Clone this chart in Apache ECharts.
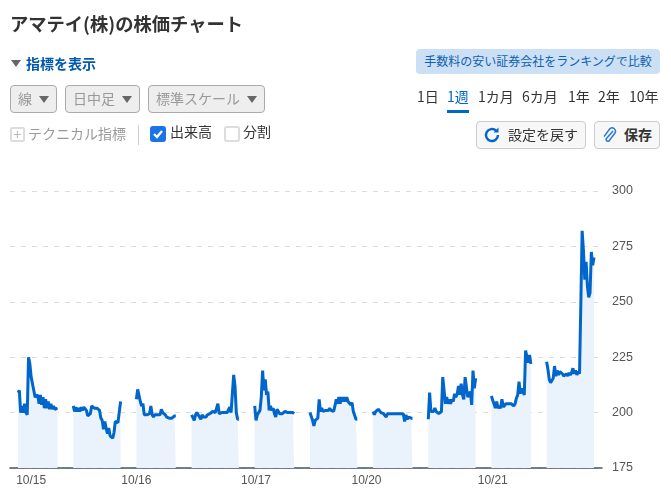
<!DOCTYPE html>
<html lang="ja"><head><meta charset="utf-8">
<script src="https://cdn.jsdelivr.net/npm/echarts@6/dist/echarts.min.js"></script>
<style>
html,body{margin:0;padding:0;background:#fff;width:671px;height:493px;overflow:hidden;font-family:"Noto Sans CJK JP","Noto Sans",sans-serif;color:#333}
#chart{position:absolute;left:0;top:0;width:671px;height:493px}
.u{position:absolute;white-space:nowrap;line-height:1;box-sizing:border-box}
.sel{top:85px;height:28px;background:#eee;border:1px solid #aaa;border-radius:4px;color:#999;font-size:14px;line-height:25px;padding-left:7px}
.sel:after{content:"";position:absolute;right:7px;top:10px;border-left:5.5px solid transparent;border-right:5.5px solid transparent;border-top:7px solid #666}
.p{top:89px;font-size:14px;color:#333}
.btn{top:121px;height:28px;background:#f7f7f7;border:1px solid #ccc;border-radius:4px;font-size:14px;line-height:25px}
</style></head><body>
<div id="chart"></div>
<div class="u" style="left:10px;top:14px;font-size:18.3px;font-weight:700">アマテイ(株)の株価チャート</div>
<div class="u" style="left:11px;top:60px;border-left:5px solid transparent;border-right:5px solid transparent;border-top:7px solid #666"></div>
<div class="u" style="left:26px;top:56px;font-size:14px;font-weight:700;color:#0058b0">指標を表示</div>
<div class="u sel" style="left:10px;width:47px">線</div>
<div class="u sel" style="left:65px;width:75px">日中足</div>
<div class="u sel" style="left:148px;width:117px">標準スケール</div>
<div class="u" style="left:10px;top:127px;width:15px;height:15px;border:2px solid #ddd;color:#bbb;font-size:14px;line-height:10px;text-align:center;border-radius:2px">+</div>
<div class="u" style="left:28px;top:126px;font-size:14px;color:#999">テクニカル指標</div>
<div class="u" style="left:138px;top:125px;width:1px;height:20px;background:#ccc"></div>
<svg class="u" style="left:150px;top:126px" width="16" height="16" viewBox="0 0 16 16"><rect width="16" height="16" rx="3" fill="#1a73e8"/><path d="M4 8l3 3 5-6" fill="none" stroke="#fff" stroke-width="2.4"/></svg>
<div class="u" style="left:170px;top:124px;font-size:14px">出来高</div>
<div class="u" style="left:224px;top:126px;width:16px;height:16px;border:2px solid #ddd;border-radius:3px"></div>
<div class="u" style="left:243px;top:124px;font-size:14px">分割</div>
<div class="u" style="left:416px;top:49px;width:244px;height:25px;background:#cbe0f5;border-radius:4px;color:#1060b0;font-size:12px;line-height:24px;text-align:center">手数料の安い証券会社をランキングで比較</div>
<div class="u p" style="left:417px">1日</div>
<div class="u p" style="left:447px;color:#0066cc">1週</div>
<div class="u" style="left:447px;top:110px;width:22px;height:3px;background:#0066cc"></div>
<div class="u p" style="left:478px">1カ月</div>
<div class="u p" style="left:522px">6カ月</div>
<div class="u p" style="left:568px">1年</div>
<div class="u p" style="left:598px">2年</div>
<div class="u p" style="left:629px">10年</div>
<div class="u btn" style="left:476px;width:110px;padding-left:31px">設定を戻す</div>
<svg class="u" style="left:483px;top:126px" width="18" height="18" viewBox="0 0 18 18"><path d="M15 9a6 6 0 1 1-2-4.5" fill="none" stroke="#0066cc" stroke-width="2.4"/><path d="M15.5 1.5v5h-5z" fill="#0066cc"/></svg>
<div class="u btn" style="left:594px;width:66px;padding-left:29px;font-weight:700">保存</div>
<svg class="u" style="left:601px;top:126px" width="17" height="18" viewBox="0 0 17 18"><path d="M13 5l-7 8a2 2 0 0 0 3 2l6-8a3.4 3.4 0 0 0-5-4.4l-6 8" fill="none" stroke="#2a78d0" stroke-width="1.5" transform="translate(-1 0)"/></svg>
<script>
const dayLabels = ['10/15','10/16','10/17','10/20','10/21'];
const labelSteps = [10,90,181,265,361];
const yTicks = [175,200,225,250,275,300];

const am1 = [209,210,200,203,200,204,200,199,225,222,216,213,210,207,206.5,208,204,208,203.5,207,202,206,202,205,201.5,204,201.5,203,201.5,202,202];
const pm1 = [203,200.5,202.5,200.5,202,200.5,202.5,201,202.5,203,201,198.5,199,199.5,203,202.5,202,202,202,202,201,197.5,196.5,192.5,196,193,190.5,193,189.5,189,188.5,191,196,195.5,195.5,196,205];
const am2 = [206,210.5,211,205,203,204,199,199,199,199,199.5,203,199,198,199,199,199,199,199,201.5,200,199.5,199,198,197.5,197.5,197.5,197.5,197.5,198.5,198.5];
const pm2 = [199,198.5,196.5,199,200,199.5,198,197,199,198,198,198,199,199,199.5,199.5,200.5,200,200,202,204,199.5,199.5,200,200,200,200,200,200,202.5,200,200,217,212,200,197,197];
const am3 = [203,196.5,199,199.5,201,207,219,210,215,208,209.5,201,203,201,202,199.5,198,201.5,202,199.5,199,199.5,199.5,200.5,201,200,200,200,200,200,199.5];
const pm3 = [200,200,196.5,194,196.5,196,197.5,206,200.5,202,200.5,201,201,201,201,202,201,201,200.5,203,206,204,207,204,207,205,207,205,207,205,205,203.5,204.5,200.5,200.5,197,197];
const am4 = [200.5,199,200.5,200,201.5,202,200,200,199.5,199.5,198,199.5,199.5,199.5,199.5,199.5,199.5,199.5,199.5,199.5,199.5,199.5,199.5,199.5,196,199,197,198,197.5,197.5,197.5];
const pm4 = [197,209,200.5,201,200.5,202,200.5,201,199.5,199.5,200.5,216,210,204,207,204,206,204,206,205,208.5,207,208.5,212,208,213,208,206,216,216,207,206.5,209.5,203.5,219,211,215.5];
const am5 = [207.5,205.5,204,202,205,202,203,202,206,202.5,202,204,203.5,204,203.5,204,203.5,203,204,206.5,208,214,208.5,211,209.5,208,228,227.5,222.5,226,222];
const pm5 = [223,219.5,215,213.5,214,215.5,221,216.5,219,217,218.5,218,217.5,216.5,216,217.5,216.5,218,217,218,220,217.5,219,217,218.5,217.5,249,282,273,260,268,257,252,254,272.5,266.5,270];

const sessions = [am1,pm1,am2,pm2,am3,pm3,am4,pm4,am5,pm5];
const seriesList = sessions.map((s,i)=>{
  const start = Math.floor(i/2)*90 + (i%2 ? 42 : 0);
  return {type:'line',data:s.map((v,j)=>[start+j,v]),showSymbol:false,
    lineStyle:{color:'#0066cc',width:3},areaStyle:{color:'#eaf3fb',opacity:1,origin:'start'}};
});

const chart = echarts.init(document.getElementById('chart'));
chart.setOption({
  animation:false,
  grid:{left:10,right:69,top:191,bottom:25},
  xAxis:{type:'value',min:-6.1,max:444.1,splitLine:{show:false},
    axisLine:{show:true,onZero:false,lineStyle:{color:'#445566',width:1.5}},axisTick:{show:false},
    axisLabel:{customValues:labelSteps,margin:7,color:'#555',fontSize:12,fontFamily:'Liberation Sans',hideOverlap:false,
      formatter:v=>dayLabels[labelSteps.indexOf(v)]}},
  yAxis:{type:'value',position:'right',min:175,max:300,interval:25,
    axisLine:{show:false},axisTick:{show:false},
    axisLabel:{margin:10,color:'#555',fontSize:12.5,fontFamily:'Liberation Sans',align:'left',padding:[3,0,0,0],
      customValues:yTicks},
    splitLine:{lineStyle:{type:[5,6],color:'#ddd'}}},
  series:seriesList
});
</script></body></html>
